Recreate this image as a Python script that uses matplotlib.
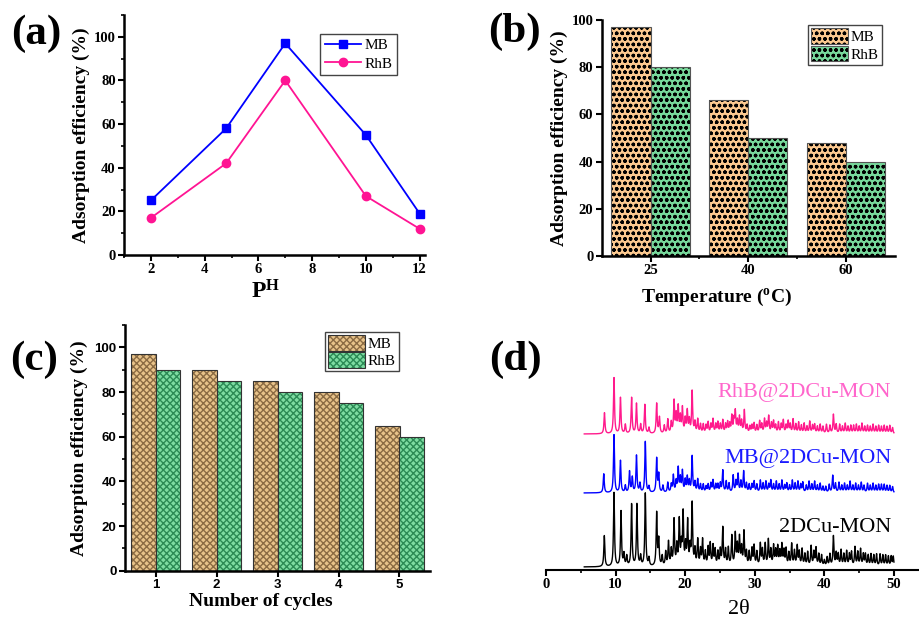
import matplotlib
matplotlib.use("Agg")
import matplotlib.pyplot as plt
from matplotlib.patches import Patch
from matplotlib.ticker import MultipleLocator
import numpy as np

plt.rcParams['font.family'] = 'Liberation Serif'
plt.rcParams['mathtext.fontset'] = 'custom'
plt.rcParams['mathtext.rm'] = 'Liberation Serif'
plt.rcParams['mathtext.bf'] = 'Liberation Serif:bold'
plt.rcParams['mathtext.it'] = 'Liberation Serif:italic'

# (a) effect of pH
ph = [2, 4.8, 7, 10, 12]
ph_mb = [25, 58, 97, 55, 19]
ph_rhb = [17, 42, 80, 27, 12]

# (b) effect of temperature
temps = ['25', '40', '60']
temp_mb = [97, 66, 48]
temp_rhb = [80, 50, 40]

# (c) recycling
cycles = ['1', '2', '3', '4', '5']
cyc_mb = [97, 90, 85, 80, 65]
cyc_rhb = [90, 85, 80, 75, 60]

# (d) PXRD, peak positions (2theta) and heights
cu_pos = [8.38, 9.77, 10.78, 11.2, 11.6, 12.3, 13.07, 13.6, 14.27, 14.8, 15.9, 16.2,
          16.7, 17.2, 17.6, 18.0, 18.4, 18.8, 19.15, 19.45, 19.7, 20.05, 20.35, 20.7,
          21.0, 21.4, 21.8, 22.2, 22.5, 22.9, 23.3, 23.6, 24.0, 24.3, 24.7, 25.05,
          25.4, 25.8, 26.2, 26.7, 27.2, 27.5, 27.8, 28.1, 28.45, 28.8, 29.2, 29.6,
          29.9, 30.3, 30.8, 31.1, 31.5, 31.95, 32.3, 32.7, 33.0, 33.3, 33.6, 33.9,
          34.2, 34.5, 34.9, 35.3, 35.7, 36.1, 36.4, 36.8, 37.2, 37.6, 38.1, 38.5,
          38.8, 39.2, 39.6, 40.0, 40.4, 40.8, 41.3, 41.7, 42.0, 42.4, 42.8, 43.2,
          43.6, 43.9, 44.4, 44.8, 45.2, 45.6, 45.9, 46.3, 46.7, 47.1, 47.5, 48.0,
          48.4, 48.8, 49.2, 49.6, 49.9]
cu_h = [31, 74, 55, 12, 10, 62, 62, 10, 73, 8, 53, 26,
        10, 14, 24, 16, 46, 20, 45, 20, 52, 20, 44, 18,
        62, 16, 26, 16, 26, 14, 18, 22, 20, 16, 14, 16,
        38, 16, 18, 30, 32, 20, 28, 18, 34, 14, 14, 17,
        20, 14, 22, 16, 22, 26, 16, 20, 15, 19, 14, 21,
        15, 17, 13, 22, 15, 20, 14, 17, 12, 14, 20, 14,
        18, 12, 11, 6, 9, 12, 30, 13, 12, 16, 12, 15,
        12, 14, 19, 14, 17, 12, 12, 11, 12, 11, 12, 12,
        11, 11, 10, 10, 10]
mb_pos = [8.3, 9.77, 10.7, 11.4, 12.0, 12.4, 13.0, 13.5, 14.27, 14.8, 15.9, 16.2,
          16.8, 17.5, 18.0, 18.3, 18.7, 19.0, 19.3, 19.6, 20.0, 20.3, 20.6, 21.0,
          21.4, 21.8, 22.2, 22.6, 23.0, 23.3, 23.7, 24.0, 24.4, 24.7, 25.05, 25.4,
          25.9, 26.3, 26.9, 27.3, 27.6, 28.0, 28.4, 28.8, 29.2, 29.6, 29.9, 30.3,
          30.8, 31.2, 31.6, 32.0, 32.3, 32.7, 33.1, 33.5, 33.9, 34.3, 34.6, 35.0,
          35.4, 35.8, 36.2, 36.6, 36.9, 37.4, 37.8, 38.2, 38.6, 39.0, 39.4, 39.8,
          40.2, 40.7, 41.2, 41.6, 42.1, 42.5, 42.9, 43.3, 43.7, 44.1, 44.5, 44.9,
          45.3, 45.7, 46.2, 46.6, 47.0, 47.4, 47.8, 48.2, 48.6, 49.0, 49.4, 49.8]
mb_h = [19, 58, 32, 7, 21, 15, 37, 9, 51, 6, 34, 18,
        7, 10, 8, 17, 11, 24, 14, 21, 12, 15, 11, 36,
        10, 13, 8, 8, 6, 8, 9, 12, 8, 8, 9, 22,
        11, 9, 17, 11, 18, 11, 21, 9, 8, 8, 11, 8,
        12, 9, 11, 8, 12, 8, 11, 8, 12, 7, 9, 7,
        12, 9, 11, 8, 10, 7, 11, 8, 11, 7, 9, 6,
        6, 8, 17, 9, 10, 7, 9, 7, 11, 7, 9, 7,
        10, 7, 9, 7, 9, 7, 8, 8, 8, 7, 7, 6]
rhb_pos = [8.4, 9.77, 10.7, 11.4, 12.3, 13.0, 13.6, 14.2, 14.8, 15.9, 16.3, 17.0,
           17.5, 18.0, 18.4, 18.7, 19.0, 19.3, 19.6, 20.0, 20.3, 20.6, 21.0, 21.4,
           21.8, 22.2, 22.6, 23.0, 23.3, 23.7, 24.0, 24.4, 24.7, 25.05, 25.4, 25.8,
           26.1, 26.4, 26.7, 27.0, 27.2, 27.5, 27.8, 28.1, 28.5, 28.9, 29.3, 29.6,
           29.9, 30.3, 30.7, 31.0, 31.4, 31.7, 32.0, 32.4, 32.7, 33.0, 33.4, 33.8,
           34.1, 34.5, 34.8, 35.1, 35.5, 35.9, 36.3, 36.7, 37.1, 37.5, 37.9, 38.3,
           38.6, 39.0, 39.4, 39.8, 40.3, 40.8, 41.3, 41.7, 42.2, 42.6, 43.0, 43.4,
           43.8, 44.2, 44.6, 45.0, 45.4, 45.8, 46.2, 46.6, 47.0, 47.4, 47.8, 48.2,
           48.6, 49.0, 49.4, 49.8]
rhb_h = [21, 56, 36, 9, 36, 30, 9, 29, 6, 30, 16, 8,
         14, 11, 32, 18, 26, 16, 25, 14, 22, 13, 42, 11,
         14, 9, 9, 8, 11, 9, 14, 9, 11, 9, 13, 9,
         11, 9, 17, 13, 21, 12, 16, 12, 23, 8, 7, 8,
         10, 8, 12, 9, 14, 10, 17, 10, 12, 8, 11, 9,
         13, 8, 12, 9, 14, 9, 11, 8, 10, 7, 12, 8,
         9, 7, 9, 7, 9, 8, 19, 9, 9, 7, 10, 7,
         8, 8, 9, 7, 10, 7, 8, 7, 9, 7, 8, 7,
         8, 7, 8, 6]

W, H = 919, 623
fig = plt.figure(figsize=(W / 100, H / 100), dpi=100)


def box(left, top, right, bottom):
    # pixel box -> figure fraction
    return [left / W, 1 - bottom / H, (right - left) / W, (bottom - top) / H]


def style(ax, sans=False, size=10.5):
    for s in ['top', 'right']:
        ax.spines[s].set_visible(False)
    for s in ['left', 'bottom']:
        ax.spines[s].set_linewidth(1.8)
    ax.tick_params(which='major', direction='out', length=4, width=1.5, labelsize=size, pad=2)
    ax.tick_params(which='minor', direction='out', length=2.5, width=1.2)
    fam = 'Liberation Sans' if sans else 'Liberation Serif'
    for lab in ax.get_xticklabels() + ax.get_yticklabels():
        lab.set_fontweight('bold')
        lab.set_family(fam)


def hatched_bars(ax, x, vals, fc, hc, hatch, oc):
    # hatch drawn in its own colour, then a separate outline on top
    ax.bar(x, vals, 0.4, color=fc, edgecolor=hc, hatch=hatch, linewidth=0)
    ax.bar(x, vals, 0.4, fill=False, edgecolor=oc, linewidth=0.8)
    h1 = Patch(facecolor=fc, edgecolor=hc, hatch=hatch, linewidth=0)
    h2 = Patch(fill=False, edgecolor=oc, linewidth=0.8)
    return (h1, h2)


labfont = dict(fontsize=14, fontweight='bold')

# ---------------- (a)
ax = fig.add_axes(box(124, 15, 425, 255))
ax.plot(ph, ph_mb, color='#0000FF', marker='s', markersize=6, linewidth=1.3, label='MB')
ax.plot(ph, ph_rhb, color='#FF1493', marker='o', markersize=6, linewidth=1.3, label='RhB')
ax.set_xlim(1, 12.2)
ax.set_ylim(0, 110)
ax.set_xticks([2, 4, 6, 8, 10, 12])
ax.set_yticks([0, 20, 40, 60, 80, 100])
ax.xaxis.set_minor_locator(MultipleLocator(1))
ax.yaxis.set_minor_locator(MultipleLocator(10))
style(ax)
ax.set_ylabel('Adsorption efficiency (%)', **labfont)
ax.yaxis.set_label_coords(-0.113, 0.5)
ax.set_xlabel(r'$\mathbf{P^{H}}$', fontsize=17)
ax.xaxis.set_label_coords(0.47, -0.105)
leg = ax.legend(loc='upper right', bbox_to_anchor=(0.907, 0.921), borderaxespad=0,
                fontsize=11, handlelength=2.4, handletextpad=0.2, labelspacing=0.3,
                fancybox=False, edgecolor='#444444', framealpha=1, borderpad=0.3)
leg.get_frame().set_linewidth(1.0)

# ---------------- (b)
ax = fig.add_axes(box(601.7, 20, 895, 256))
x = np.arange(len(temps))
hb1 = hatched_bars(ax, x - 0.2, temp_mb, '#FCC990', 'black', 'ooo...', '#555555')
hb2 = hatched_bars(ax, x + 0.2, temp_rhb, '#77D89B', 'black', 'ooo...', '#555555')
ax.set_xlim(-0.5, 2.5)
ax.set_ylim(0, 100)
ax.set_xticks(x)
ax.set_xticklabels(temps)
ax.set_xticks([0.5, 1.5], minor=True)
ax.set_yticks([0, 20, 40, 60, 80, 100])
style(ax)
ax.set_ylabel('Adsorption efficiency (%)', **labfont)
ax.yaxis.set_label_coords(-0.115, 0.5)
ax.set_xlabel(r'Temperature ($^{\mathbf{o}}$C)', **labfont)
ax.xaxis.set_label_coords(0.393, -0.13)
leg = ax.legend([hb1, hb2], ['MB', 'RhB'], loc='upper right', bbox_to_anchor=(0.955, 0.979),
                borderaxespad=0, fontsize=11, handlelength=2.4, handleheight=1.2,
                handletextpad=0.2, labelspacing=0.1, fancybox=False, edgecolor='#444444',
                framealpha=1, borderpad=0.2)
leg.get_frame().set_linewidth(1.0)

# ---------------- (c)
ax = fig.add_axes(box(125, 325, 430, 570.7))
x = np.arange(1, len(cycles) + 1)
hc1 = hatched_bars(ax, x - 0.2, cyc_mb, '#E8C38A', '#8B6B43', 'xxxxx', '#333333')
hc2 = hatched_bars(ax, x + 0.2, cyc_rhb, '#7EDCA2', '#2B8A55', 'xxxxx', '#333333')
ax.set_xlim(0.5, 5.5)
ax.set_ylim(0, 110)
ax.set_xticks(x)
ax.set_xticklabels(cycles)
ax.set_yticks([0, 20, 40, 60, 80, 100])
ax.yaxis.set_minor_locator(MultipleLocator(10))
style(ax, sans=True, size=9.5)
ax.set_ylabel('Adsorption efficiency (%)', **labfont)
ax.yaxis.set_label_coords(-0.12, 0.5)
ax.set_xlabel('Number of cycles', **labfont)
ax.xaxis.set_label_coords(0.446, -0.09)
leg = ax.legend([hc1, hc2], ['MB', 'RhB'], loc='upper right', bbox_to_anchor=(0.898, 0.972),
                borderaxespad=0, fontsize=11, handlelength=2.4, handleheight=1.2,
                handletextpad=0.2, labelspacing=0.1, fancybox=False, edgecolor='#444444',
                framealpha=1, borderpad=0.2)
leg.get_frame().set_linewidth(1.0)

# ---------------- (d)
ax = fig.add_axes(box(546, 370, 919, 570))
tt = np.linspace(5.5, 50, 6000)


def pattern(pos, hts, w=0.085):
    y = np.zeros_like(tt)
    for p, h in zip(pos, hts):
        y += h / (1 + ((tt - p) / w) ** 2)
    return y


ax.plot(tt, pattern(cu_pos, cu_h) + 3, color='black', linewidth=1.0)
ax.plot(tt, pattern(mb_pos, mb_h) + 77, color='#0000FF', linewidth=1.0)
ax.plot(tt, pattern(rhb_pos, rhb_h) + 136, color='#FF1A8C', linewidth=1.0)
ax.text(49.6, 177, 'RhB@2DCu-MON', color='#FF66CC', fontsize=16, ha='right', va='center')
ax.text(49.6, 111, 'MB@2DCu-MON', color='#1A1AFF', fontsize=16, ha='right', va='center')
ax.text(49.6, 43, '2DCu-MON', color='black', fontsize=16, ha='right', va='center')
ax.set_xlim(0, 53.6)
ax.set_ylim(0, 200)
ax.set_xticks([0, 10, 20, 30, 40, 50])
ax.xaxis.set_minor_locator(MultipleLocator(5))
ax.set_yticks([])
style(ax)
ax.spines['left'].set_visible(False)
ax.spines['bottom'].set_linewidth(1.5)
ax.set_xlabel('2θ', fontsize=16)
ax.xaxis.set_label_coords(0.517, -0.15)

# panel letters
for lbl, px, py in [('(a)', 36, 34), ('(b)', 514, 32), ('(c)', 34, 360), ('(d)', 515, 360)]:
    fig.text(px / W, 1 - py / H, lbl, fontsize=31, fontweight='bold', ha='center', va='center')

fig.savefig('out.png', dpi=100)
